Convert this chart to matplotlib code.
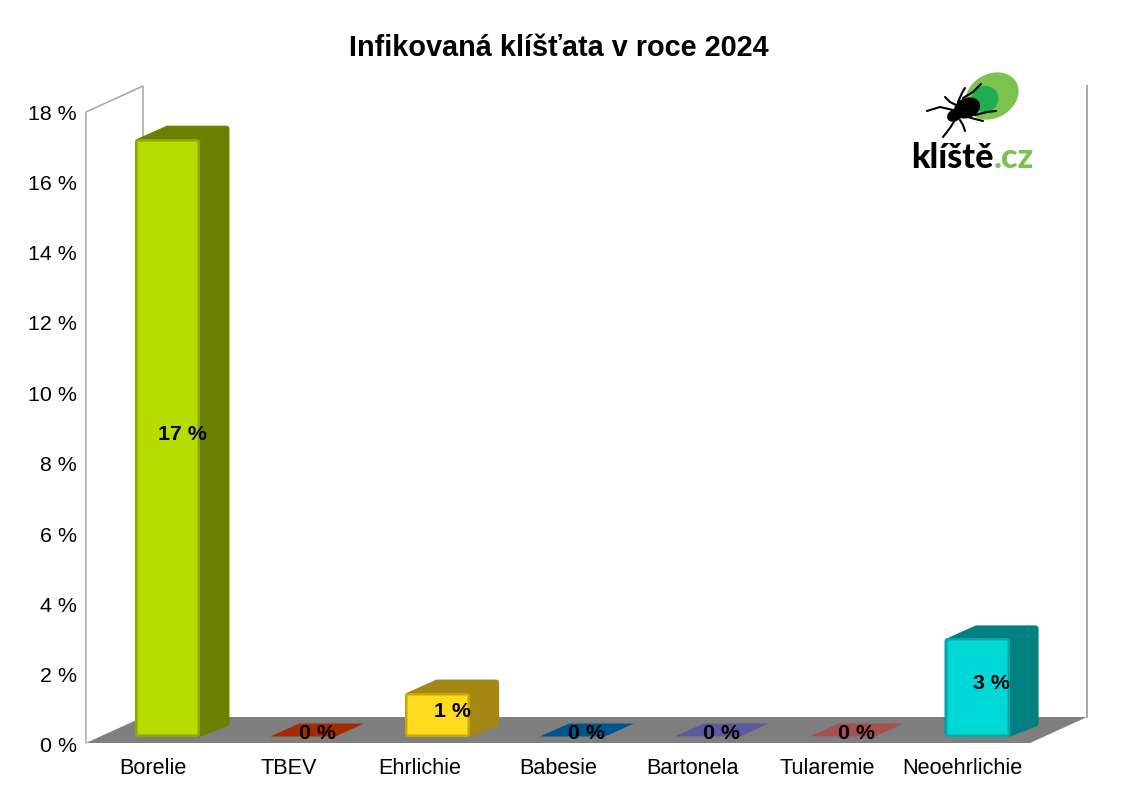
"""Infected ticks 2024 - pseudo 3D bar chart with the klíště.cz logo."""

import matplotlib

matplotlib.use("Agg")
import matplotlib.pyplot as plt
from matplotlib.patches import Ellipse, Polygon
from matplotlib.transforms import ScaledTranslation

CATEGORIES = ["Borelie", "TBEV", "Ehrlichie", "Babesie", "Bartonela", "Tularemie", "Neoehrlichie"]
VALUES = [17, 0, 1.25, 0, 0, 0, 2.79]
BAR_LABELS = ["17 %", "0 %", "1 %", "0 %", "0 %", "0 %", "3 %"]
FRONT_COLORS = ["#b6dc00", "#a52a00", "#ffdb1f", "#00568c", "#5b5a9c", "#a65050", "#00d8d8"]
EDGE_COLORS = ["#8fa800", "#a52a00", "#c8a800", "#00568c", "#5b5a9c", "#a65050", "#00a8a8"]
SIDE_COLORS = ["#6d7f00", "#a52a00", "#a58814", "#00568c", "#5b5a9c", "#a65050", "#008080"]
YTICKS = [0, 2, 4, 6, 8, 10, 12, 14, 16, 18]

FIG_W, FIG_H = 1123, 794
LEFT, RIGHT, BOTTOM, TOP = 86, 1030, 745, 112

# one pixel in data units
PX_X = (len(CATEGORIES)) / (RIGHT - LEFT)
PX_Y = 18 / (BOTTOM - TOP)
PT_PER_PX = 0.72

# depth of the room and of the bars, in data units
ROOM_BASE = 2 * PX_Y
ROOM_DX, ROOM_DY = 57 * PX_X, 26 * PX_Y
BAR_DX, BAR_DY = 29 * PX_X, 13 * PX_Y
BAR_X0, BAR_X1 = -18 * PX_X, 47 * PX_X
BAR_BASE = 8.5 * PX_Y

WALL = "#a6a6a6"
FLOOR = "#7f7f7f"

plt.rcParams["font.family"] = ["Liberation Sans", "DejaVu Sans"]

fig = plt.figure(figsize=(FIG_W / 100, FIG_H / 100), dpi=100)
ax = fig.add_axes([LEFT / FIG_W, 1 - BOTTOM / FIG_H, (RIGHT - LEFT) / FIG_W, (BOTTOM - TOP) / FIG_H])
ax.set_xlim(-0.5, len(CATEGORIES) - 0.5)
ax.set_ylim(0, 18)
for spine in ax.spines.values():
    spine.set_visible(False)
ax.patch.set_visible(False)
ax.set_xticks(range(len(CATEGORIES)), CATEGORIES, fontsize=15.6)
ax.set_yticks(YTICKS, [f"{v} %" for v in YTICKS], fontsize=15.4)
ax.tick_params(axis="x", length=0, pad=9.5)
ax.tick_params(axis="y", length=0, pad=6.5)

# the Ehrlichie label sits a little left of its slot in the original
ehr = ax.get_xticklabels()[2]
ehr.set_transform(ehr.get_transform() + ScaledTranslation(-3 / 100, 0, fig.dpi_scale_trans))


def poly(points, **kwargs):
    patch = Polygon(points, closed=True, clip_on=False, **kwargs)
    ax.add_patch(patch)
    return patch


def rounded(x0, y0, x1, y1, inset, **kwargs):
    # rectangle shrunk by inset pixels, then fattened again by a round-joined edge
    dx, dy = inset * PX_X, inset * PX_Y
    color = kwargs.pop("color")
    return poly(
        [(x0 + dx, y0 + dy), (x1 - dx, y0 + dy), (x1 - dx, y1 - dy), (x0 + dx, y1 - dy)],
        facecolor=color, edgecolor=color, lw=2 * inset * PT_PER_PX, joinstyle="round", **kwargs,
    )


# room
x0, x1 = ax.get_xlim()
poly(
    [(x0, ROOM_BASE), (x0 + ROOM_DX, ROOM_BASE + ROOM_DY), (x1 + ROOM_DX, ROOM_BASE + ROOM_DY), (x1, ROOM_BASE)],
    facecolor=FLOOR, edgecolor="none", zorder=1,
)
ax.plot([x0, x0, x0 + ROOM_DX, x0 + ROOM_DX], [ROOM_BASE, 18, 18 + ROOM_DY, ROOM_BASE + ROOM_DY],
        color=WALL, lw=1.1, clip_on=False, zorder=1)
ax.plot([x1 + ROOM_DX, x1 + ROOM_DX], [ROOM_BASE + ROOM_DY, 18 + ROOM_DY],
        color=WALL, lw=1.4, clip_on=False, zorder=1)

# bars
INSET_X, INSET_Y = 3 * PX_X, 3 * PX_Y
for i, (value, front, edge, side) in enumerate(zip(VALUES, FRONT_COLORS, EDGE_COLORS, SIDE_COLORS)):
    left, right = i + BAR_X0, i + BAR_X1
    base, top = BAR_BASE, BAR_BASE + value
    if value == 0:
        poly(
            [(left, base), (left + BAR_DX, base + BAR_DY), (right + BAR_DX, base + BAR_DY), (right, base)],
            facecolor=side, edgecolor="none", zorder=2,
        )
    else:
        poly(
            [(left + INSET_X, top - INSET_Y), (left + BAR_DX + INSET_X, top + BAR_DY - INSET_Y),
             (right + BAR_DX - INSET_X, top + BAR_DY - INSET_Y),
             (right + BAR_DX - INSET_X, base + BAR_DY), (right, base + INSET_Y), (left + INSET_X, base + INSET_Y)],
            facecolor=side, edgecolor=side, lw=6 * PT_PER_PX, joinstyle="round", zorder=2,
        )
        rounded(left, base, right, top, 3, color=edge, zorder=3)
        soft = rounded(left + 2 * PX_X, base + 2 * PX_Y, right - 2 * PX_X, top - 2 * PX_Y, 1, color=front, zorder=3)
        soft.set_alpha(0.5)
        rounded(left + 3 * PX_X, base + 3 * PX_Y, right - 3 * PX_X, top - 3 * PX_Y, 1, color=front, zorder=3)
    ax.text(i + 29 * PX_X, value / 2 + 0.34, BAR_LABELS[i], ha="center", va="center",
            fontsize=15.4, fontweight="bold", color="black", zorder=4)

fig.text(558.5 / FIG_W, 1 - 48 / FIG_H, "Infikovaná klíšťata v roce 2024", ha="center", va="center",
         fontsize=20.8, fontweight="bold")

# logo, drawn on a pixel overlay
logo = fig.add_axes([0, 0, 1, 1])
logo.set_xlim(0, FIG_W)
logo.set_ylim(FIG_H, 0)
logo.axis("off")
logo.add_patch(Ellipse((992, 96), 56, 44, angle=-30, facecolor="#7dc24f", edgecolor="none"))
logo.add_patch(Ellipse((985, 99), 27, 26, angle=-30, facecolor="#1fae4f", edgecolor="none"))
logo.add_patch(Ellipse((967, 108), 27, 20, angle=-22, facecolor="black", edgecolor="none"))
logo.add_patch(Ellipse((955, 115), 17, 12, angle=-30, facecolor="black", edgecolor="none"))
LEGS = [
    [(953, 110), (940, 107), (927, 111)],
    [(956, 105), (950, 102), (945, 97)],
    [(958, 102), (962, 93), (965, 88)],
    [(963, 98), (973, 92), (981, 84)],
    [(975, 115), (987, 112), (996, 111)],
    [(968, 117), (975, 119), (983, 121)],
    [(955, 120), (950, 128), (943, 137)],
    [(960, 120), (963, 125), (965, 131)],
]
for leg in LEGS:
    logo.plot([p[0] for p in leg], [p[1] for p in leg], color="black", lw=1.5, solid_capstyle="round")
logo.text(911, 168, "klíště", ha="left", va="baseline", fontsize=24.5,
          family="Lato", fontweight="black", color="black")
logo.text(1034, 168, ".cz", ha="right", va="baseline", fontsize=24.5,
          family="Lato", fontweight="black", color="#7dc24f")

fig.savefig("out.png", dpi=100)
